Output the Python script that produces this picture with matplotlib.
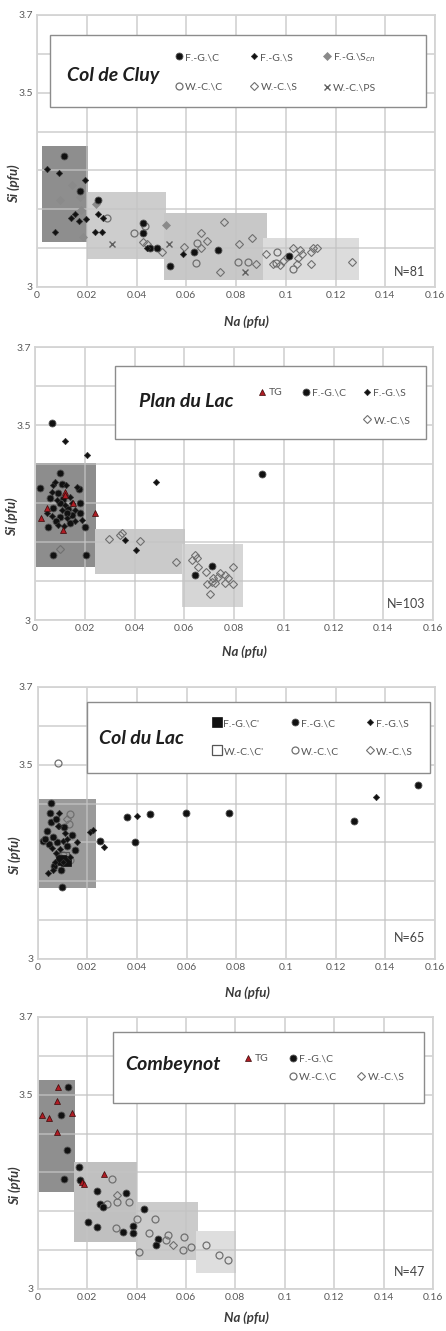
"""Si vs Na (pfu) scatter panels for four localities."""
import numpy as np
import matplotlib
matplotlib.use("Agg")
import matplotlib.pyplot as plt
from matplotlib.lines import Line2D
from matplotlib.patches import Rectangle
from matplotlib.legend import Legend

plt.rcParams['font.family'] = ['Lato', 'DejaVu Sans']

# ── Col de Cluy ───────────────────────────────────────────────────────────────
cluy_fgc_na = [0.0107, 0.0174, 0.0244, 0.0426, 0.0426, 0.0455, 0.0482, 0.0536, 0.0633, 0.0727, 0.1012]
cluy_fgc_si = [3.338, 3.246, 3.223, 3.165, 3.139, 3.100, 3.100, 3.053, 3.089, 3.094, 3.081]
cluy_fgs_na = [0.0041, 0.0090, 0.0193, 0.0072, 0.0135, 0.0153, 0.0170, 0.0197, 0.0246, 0.0233,
               0.0260, 0.0264, 0.0442, 0.0586]
cluy_fgs_si = [3.304, 3.294, 3.275, 3.142, 3.177, 3.187, 3.170, 3.175, 3.187, 3.142,
               3.141, 3.177, 3.100, 3.085]
cluy_fgscn_na = [0.0139, 0.0092, 0.0173, 0.0184, 0.0237, 0.0519, 0.0177]
cluy_fgscn_si = [3.262, 3.224, 3.232, 3.128, 3.213, 3.159, 3.199]
cluy_wcc_na = [0.0283, 0.0390, 0.0434, 0.0642, 0.0639, 0.0809, 0.0849, 0.0964, 0.1030, 0.0961]
cluy_wcc_si = [3.178, 3.138, 3.158, 3.112, 3.061, 3.064, 3.064, 3.091, 3.046, 3.061]
cluy_wcs_na = [0.0425, 0.0441, 0.0501, 0.0752, 0.0658, 0.0685, 0.0658, 0.0591, 0.0736, 0.0813,
               0.0866, 0.0880, 0.0919, 0.0950, 0.0990, 0.1030, 0.1057, 0.1064, 0.1050, 0.1044,
               0.1101, 0.1110, 0.1124, 0.1101, 0.1265, 0.1004, 0.0977]
cluy_wcs_si = [3.115, 3.110, 3.091, 3.168, 3.138, 3.118, 3.100, 3.104, 3.038, 3.111,
               3.125, 3.058, 3.084, 3.058, 3.067, 3.101, 3.095, 3.084, 3.074, 3.058,
               3.089, 3.100, 3.101, 3.059, 3.064, 3.078, 3.057]
cluy_wcps_na = [0.0300, 0.0532, 0.0836]
cluy_wcps_si = [3.110, 3.110, 3.038]
cluy_box_na = [(0.002, 0.0207), (0.0203, 0.0518), (0.0509, 0.0924), (0.0910, 0.1296)]
cluy_box_si = [(3.117, 3.364), (3.072, 3.244), (3.019, 3.190), (3.019, 3.126)]

# ── Plan du Lac ───────────────────────────────────────────────────────────────
plan_fgc_na = [0.0070, 0.0914, 0.0074, 0.0205, 0.0645, 0.0101, 0.0710,
               0.0020, 0.0107, 0.0178, 0.0094, 0.0060, 0.0114, 0.0181, 0.0074, 0.0134,
               0.0181, 0.0101, 0.0147, 0.0054, 0.0141, 0.0201, 0.0100, 0.0130, 0.0085]
plan_fgc_si = [3.506, 3.374, 3.167, 3.167, 3.115, 3.376, 3.138,
               3.338, 3.350, 3.336, 3.325, 3.312, 3.309, 3.301, 3.286, 3.284,
               3.275, 3.265, 3.269, 3.239, 3.248, 3.239, 3.300, 3.275, 3.255]
plan_fgs_na = [0.0120, 0.0208, 0.0486, 0.0362, 0.0406,
               0.0074, 0.0168, 0.0067, 0.0087, 0.0141, 0.0107, 0.0161, 0.0067, 0.0127,
               0.0188, 0.0094, 0.0080, 0.0120, 0.0150, 0.0115, 0.0160, 0.0050, 0.0125]
plan_fgs_si = [3.458, 3.423, 3.355, 3.205, 3.179,
               3.346, 3.342, 3.329, 3.308, 3.316, 3.282, 3.282, 3.267, 3.261,
               3.256, 3.244, 3.355, 3.295, 3.300, 3.240, 3.255, 3.275, 3.345]
plan_tg_na = [0.0121, 0.0154, 0.0047, 0.0241, 0.0023, 0.0114, 0.0120]
plan_tg_si = [3.329, 3.299, 3.286, 3.274, 3.261, 3.231, 3.320]
plan_wcs_na = [0.0101, 0.0297, 0.0342, 0.0350, 0.0422, 0.0567, 0.0643, 0.0650, 0.0630, 0.0657,
               0.0687, 0.0744, 0.0764, 0.0777, 0.0797, 0.0717, 0.0710, 0.0690, 0.0724, 0.0764,
               0.0797, 0.0704, 0.0737]
plan_wcs_si = [3.181, 3.207, 3.218, 3.222, 3.203, 3.150, 3.167, 3.158, 3.154, 3.137,
               3.124, 3.121, 3.115, 3.107, 3.135, 3.107, 3.098, 3.092, 3.094, 3.096,
               3.092, 3.067, 3.111]
plan_box_na = [(0.0004, 0.0245), (0.0241, 0.0602), (0.0592, 0.0837)]
plan_box_si = [(3.135, 3.402), (3.117, 3.233), (3.033, 3.194)]

# ── Col du Lac ────────────────────────────────────────────────────────────────
coldu_fgc_na = [0.0358, 0.0452, 0.0596, 0.0769, 0.1274, 0.1533, 0.0392, 0.0251, 0.0052, 0.0050,
                0.0052, 0.0023, 0.0076, 0.0036, 0.0099, 0.0060, 0.0045, 0.0120, 0.0075, 0.0140,
                0.0065, 0.0095, 0.0030, 0.0150, 0.0105]
coldu_fgc_si = [3.366, 3.373, 3.377, 3.377, 3.355, 3.448, 3.302, 3.304, 3.401, 3.377,
                3.352, 3.304, 3.302, 3.330, 3.186, 3.315, 3.295, 3.290, 3.360, 3.320,
                3.240, 3.230, 3.310, 3.280, 3.340]
coldu_fgs_na = [0.1361, 0.0401, 0.0267, 0.0211, 0.0221, 0.0087, 0.0087, 0.0110, 0.0103, 0.0119,
                0.0157, 0.0056, 0.0090, 0.0074, 0.0130, 0.0070, 0.0103, 0.0043, 0.0060, 0.0083]
coldu_fgs_si = [3.416, 3.369, 3.287, 3.328, 3.332, 3.375, 3.342, 3.325, 3.304, 3.308,
                3.302, 3.285, 3.282, 3.272, 3.263, 3.250, 3.250, 3.222, 3.229, 3.343]
coldu_fgcp_na = [0.0095, 0.0112]
coldu_fgcp_si = [3.256, 3.252]
coldu_wccp_na = [0.0106]
coldu_wccp_si = [3.262]
coldu_wcc_na = [0.0081, 0.0130, 0.0127, 0.0101, 0.0130]
coldu_wcc_si = [3.504, 3.373, 3.347, 3.268, 3.255]
coldu_wcs_na = [0.0120, 0.0085]
coldu_wcs_si = [3.360, 3.265]
coldu_box_na = [(0.0006, 0.0234)]
coldu_box_si = [(3.184, 3.411)]

# ── Combeynot ─────────────────────────────────────────────────────────────────
comb_tg_na = [0.0084, 0.0080, 0.0016, 0.0047, 0.0137, 0.0077, 0.0270, 0.0178, 0.0187]
comb_tg_si = [3.520, 3.484, 3.449, 3.439, 3.452, 3.404, 3.297, 3.276, 3.270]
comb_fgc_na = [0.0121, 0.0094, 0.0117, 0.0106, 0.0167, 0.0171, 0.0241, 0.0252, 0.0266, 0.0357,
               0.0202, 0.0241, 0.0346, 0.0384, 0.0384, 0.0431, 0.0485, 0.0479]
comb_fgc_si = [3.520, 3.447, 3.359, 3.282, 3.314, 3.280, 3.252, 3.218, 3.212, 3.246,
               3.173, 3.159, 3.146, 3.163, 3.145, 3.207, 3.128, 3.113]
comb_wcc_na = [0.0299, 0.0369, 0.0319, 0.0282, 0.0400, 0.0474, 0.0452, 0.0411, 0.0317, 0.0528,
               0.0518, 0.0593, 0.0589, 0.0620, 0.0683, 0.0735, 0.0771]
comb_wcc_si = [3.282, 3.223, 3.223, 3.220, 3.179, 3.180, 3.143, 3.096, 3.158, 3.139,
               3.126, 3.135, 3.100, 3.107, 3.113, 3.087, 3.075]
comb_wcs_na = [0.0319, 0.0549]
comb_wcs_si = [3.242, 3.113]
comb_box_na = [(0.0, 0.0151), (0.0147, 0.0403), (0.0398, 0.0647), (0.0639, 0.0802)]
comb_box_si = [(3.250, 3.537), (3.122, 3.327), (3.075, 3.223), (3.042, 3.150)]

x_ticks = [0, 0.02, 0.04, 0.06, 0.08, 0.1, 0.12, 0.14, 0.16]
x_labels = ['0', '0.02', '0.04', '0.06', '0.08', '0.1', '0.12', '0.14', '0.16']
y_ticks = [3.0, 3.1, 3.2, 3.3, 3.4, 3.5, 3.6, 3.7]
y_labels = ['3', '', '', '', '', '3.5', '', '3.7']

# marker styles per group
STY = {
    'fgc':   dict(marker='o', ms=5, mfc='#111111', mec='#555555', mew=0.6),
    'fgs':   dict(marker='D', ms=3.2, mfc='#111111', mec='#333333', mew=0.5),
    'fgscn': dict(marker='D', ms=3.6, mfc='#8a8a8a', mec='#8a8a8a', mew=0.5),
    'wcc':   dict(marker='o', ms=5, mfc='none', mec='#707070', mew=0.9),
    'wcs':   dict(marker='D', ms=3.6, mfc='none', mec='#707070', mew=0.8),
    'wcps':  dict(marker='x', ms=5, mfc='none', mec='#606060', mew=1.0),
    'tg':    dict(marker='^', ms=5, mfc='#b01c24', mec='#3a0a0a', mew=0.5),
    'fgcp':  dict(marker='s', ms=6.5, mfc='#111111', mec='#111111', mew=0.5),
    'wccp':  dict(marker='s', ms=6.5, mfc='none', mec='#555555', mew=0.9),
}
LABELS = {
    'fgc': 'F.-G.\\C', 'fgs': 'F.-G.\\S', 'fgscn': 'F.-G.\\S$_{cn}$',
    'wcc': 'W.-C.\\C', 'wcs': 'W.-C.\\S', 'wcps': 'W.-C.\\PS',
    'tg': 'TG', 'fgcp': "F.-G.\\C'", 'wccp': "W.-C.\\C'",
}
LEG_FS = 7.5


def handle(key):
    if key is None:
        return Line2D([], [], linestyle='none')
    return Line2D([], [], linestyle='none', **STY[key])


def panel(ax, series, boxes, box_colors, title, title_xy, legbox, cols, rows,
          n_text, n_xy, xlab_y):
    ax.set_xlim(0, 0.16)
    ax.set_ylim(3, 3.7)
    ax.set_xticks(x_ticks)
    ax.set_xticklabels(x_labels)
    ax.set_yticks(y_ticks)
    ax.set_yticklabels(y_labels)
    ax.tick_params(length=0, labelsize=7.5, labelcolor='#595959', pad=3)
    ax.set_axisbelow('line')
    ax.grid(True, color='#c4c4c4', lw=1.3, alpha=0.7)
    for sp in ax.spines.values():
        sp.set_color('#d4d4d4')
        sp.set_linewidth(1.3)
    (bx, by), bc = boxes, box_colors
    for (x0, x1), (y0, y1), c in zip(bx, by, bc):
        ax.add_patch(Rectangle((x0, y0), x1 - x0, y1 - y0, facecolor=c,
                               edgecolor='none', zorder=1))
    for key, na, si in series:
        ax.plot(na, si, linestyle='none', zorder=3, **STY[key])
    ax.set_xlabel('Na (pfu)', fontsize=9.5, fontweight='bold', style='italic',
                  color='#3a3a3a', va='center')
    ax.set_ylabel('Si (pfu)', fontsize=9.5, fontweight='bold', style='italic',
                  color='#3a3a3a')
    ax.xaxis.set_label_coords(0.527, xlab_y)
    ax.yaxis.set_label_coords(-0.043, 0.38)
    # legend frame + title
    x0, x1, y0, y1 = legbox
    ax.add_patch(Rectangle((x0, y0), x1 - x0, y1 - y0, transform=ax.transAxes,
                           facecolor='white', edgecolor='#8c8c8c', lw=1.0, zorder=5))
    ax.text(title_xy[0], title_xy[1], title, transform=ax.transAxes, ha='center',
            va='center', fontsize=14, fontweight='bold', style='italic',
            color='#1e1e1e', zorder=6)
    ymid = (rows[0] + rows[1]) / 2
    gap_px = (rows[0] - rows[1]) * 272
    fs_px = LEG_FS * 100 / 72
    for cx, keys in cols:
        hs = [handle(k) for k in keys]
        ls = [LABELS[k] if k else '' for k in keys]
        leg = Legend(ax, hs, ls, loc='center left', bbox_to_anchor=(cx, ymid),
                     frameon=False, fontsize=LEG_FS, handlelength=0.9, handletextpad=0.15,
                     borderpad=0, borderaxespad=0,
                     labelspacing=gap_px / fs_px - 1.0, labelcolor='#555555')
        leg.set_zorder(7)
        ax.add_artist(leg)
    ax.text(n_xy[0], n_xy[1], n_text, transform=ax.transAxes, ha='right', va='center',
            fontsize=9, color='#444444', zorder=4)


fig = plt.figure(figsize=(4.46, 13.31), dpi=100)
W, H = 446, 1331


def axes_at(left, top, right, bottom):
    return fig.add_axes([left / W, 1 - bottom / H, (right - left) / W, (bottom - top) / H])


ax1 = axes_at(37, 15, 435, 287)
panel(ax1,
      [('fgscn', cluy_fgscn_na, cluy_fgscn_si), ('wcs', cluy_wcs_na, cluy_wcs_si),
       ('wcc', cluy_wcc_na, cluy_wcc_si), ('wcps', cluy_wcps_na, cluy_wcps_si),
       ('fgc', cluy_fgc_na, cluy_fgc_si), ('fgs', cluy_fgs_na, cluy_fgs_si)],
      (cluy_box_na, cluy_box_si), ['#8e8e8e', '#cdcdcd', '#c8c8c8', '#dcdcdc'],
      'Col de Cluy', (0.191, 0.779), (0.033, 0.977, 0.662, 0.926),
      [(0.345, ['fgc', 'wcc']), (0.534, ['fgs', 'wcs']), (0.717, ['fgscn', 'wcps'])],
      (0.846, 0.735), 'N=81', (0.975, 0.055), -35 / 272)

ax2 = axes_at(35, 347, 433, 620)
panel(ax2,
      [('wcs', plan_wcs_na, plan_wcs_si), ('fgc', plan_fgc_na, plan_fgc_si),
       ('fgs', plan_fgs_na, plan_fgs_si), ('tg', plan_tg_na, plan_tg_si)],
      (plan_box_na, plan_box_si), ['#8d8d8d', '#cacaca', '#d6d6d6'],
      'Plan du Lac', (0.379, 0.799), (0.201, 0.982, 0.663, 0.930),
      [(0.559, ['tg', None]), (0.669, ['fgc', None]), (0.823, ['fgs', 'wcs'])],
      (0.835, 0.729), 'N=103', (0.982, 0.059), -32 / 273)

ax3 = axes_at(37.7, 687, 435, 959)
panel(ax3,
      [('wcc', coldu_wcc_na, coldu_wcc_si), ('wcs', coldu_wcs_na, coldu_wcs_si),
       ('wccp', coldu_wccp_na, coldu_wccp_si), ('fgcp', coldu_fgcp_na, coldu_fgcp_si),
       ('fgc', coldu_fgc_na, coldu_fgc_si), ('fgs', coldu_fgs_na, coldu_fgs_si)],
      (coldu_box_na, coldu_box_si), ['#9a9a9a'],
      'Col du Lac', (0.262, 0.812), (0.124, 0.987, 0.684, 0.945),
      [(0.440, ['fgcp', 'wccp']), (0.636, ['fgc', 'wcc']), (0.824, ['fgs', 'wcs'])],
      (0.868, 0.761), 'N=65', (0.975, 0.077), -34 / 272)

ax4 = axes_at(37.7, 1017, 433, 1289)
panel(ax4,
      [('wcc', comb_wcc_na, comb_wcc_si), ('wcs', comb_wcs_na, comb_wcs_si),
       ('fgc', comb_fgc_na, comb_fgc_si), ('tg', comb_tg_na, comb_tg_si)],
      (comb_box_na, comb_box_si), ['#8f8f8f', '#c0c0c0', '#cbcbcb', '#dedede'],
      'Combeynot', (0.342, 0.827), (0.190, 0.977, 0.684, 0.945),
      [(0.521, ['tg', None]), (0.633, ['fgc', 'wcc']), (0.807, [None, 'wcs'])],
      (0.849, 0.779), 'N=47', (0.98, 0.063), -29 / 272)

fig.savefig('out.png', dpi=100)
